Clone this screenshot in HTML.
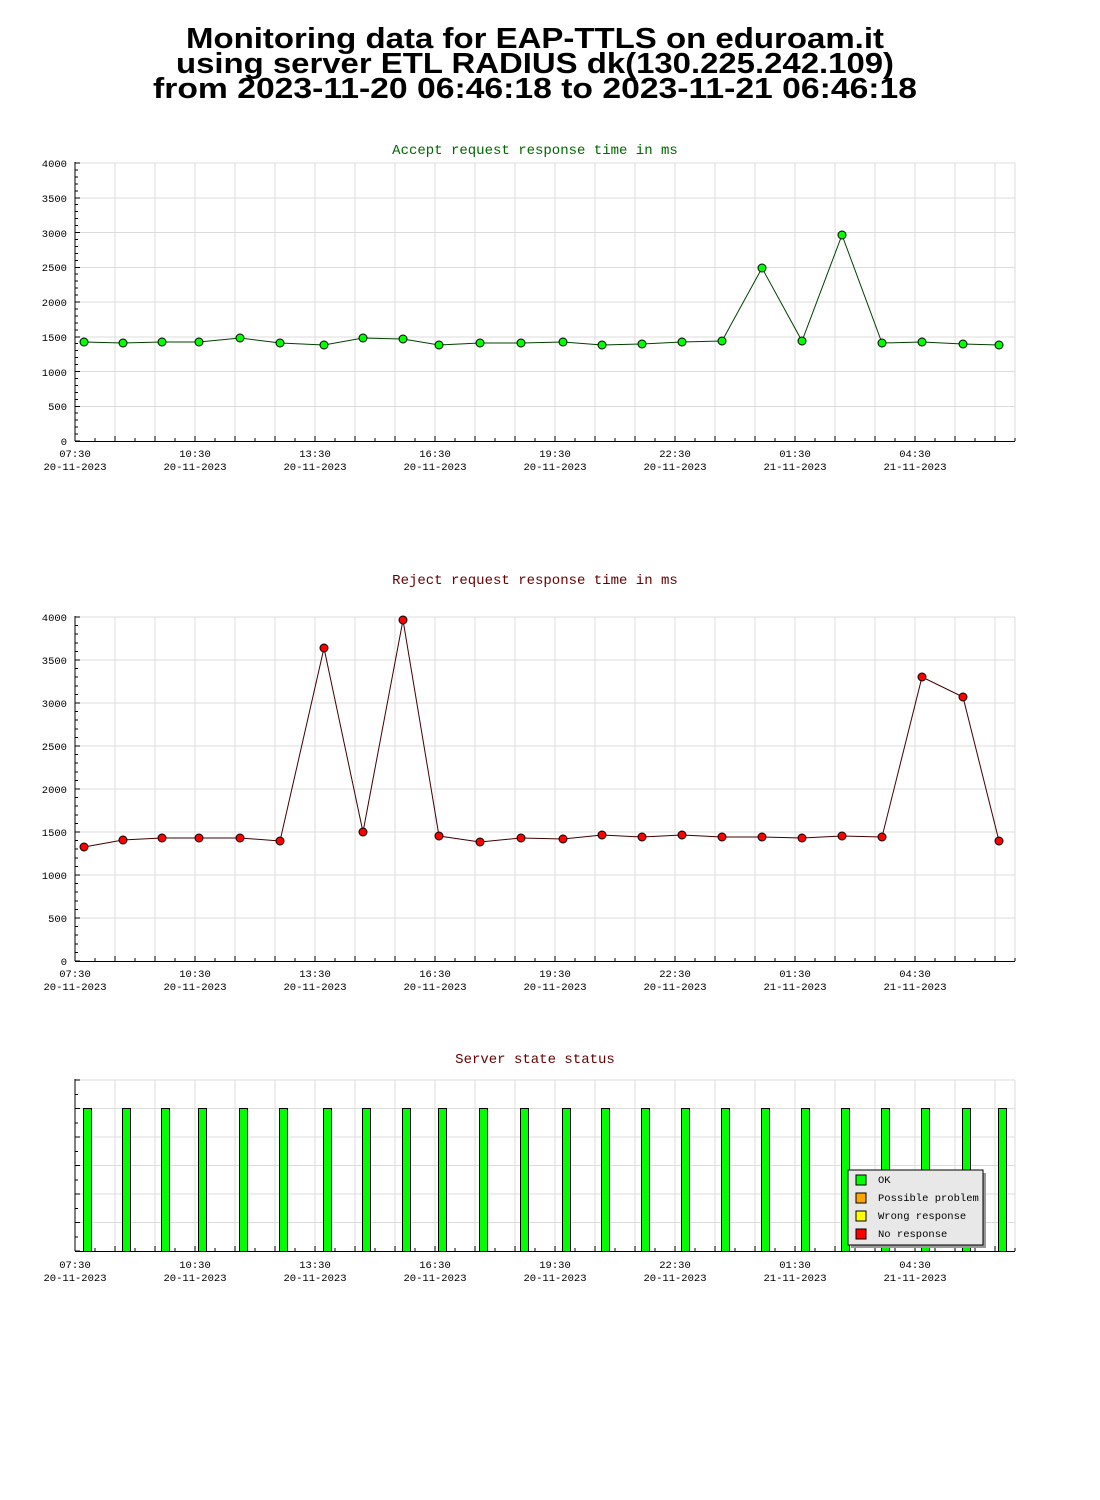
<!DOCTYPE html>
<html><head><meta charset="utf-8"><style>
html,body{margin:0;padding:0;background:#fff;width:1100px;height:1500px;overflow:hidden}
svg{display:block}
.t{font-family:"Liberation Sans",sans-serif;font-weight:bold;font-size:29px;fill:#000}
.m{font-family:"Liberation Mono","DejaVu Sans Mono",monospace;font-size:10.5px;fill:#000}
.h{font-family:"Liberation Mono","DejaVu Sans Mono",monospace;font-size:14px}
</style></head><body>
<svg id="s" width="1100" height="1500" xmlns="http://www.w3.org/2000/svg">
<text class="t" x="535" y="48" text-anchor="middle" textLength="698" lengthAdjust="spacingAndGlyphs">Monitoring data for EAP-TTLS on eduroam.it</text>
<text class="t" x="535" y="73" text-anchor="middle" textLength="718" lengthAdjust="spacingAndGlyphs">using server ETL RADIUS dk(130.225.242.109)</text>
<text class="t" x="535" y="98" text-anchor="middle" textLength="764" lengthAdjust="spacingAndGlyphs">from 2023-11-20 06:46:18 to 2023-11-21 06:46:18</text>
<text class="h" x="535" y="154" text-anchor="middle" fill="#006600">Accept request response time in ms</text>
<text class="h" x="535" y="584" text-anchor="middle" fill="#660000">Reject request response time in ms</text>
<text class="h" x="535" y="1063" text-anchor="middle" fill="#660000">Server state status</text>
<g class="m" text-anchor="end">
<text x="67" y="167">4000</text><text x="67" y="202">3500</text><text x="67" y="237">3000</text><text x="67" y="271">2500</text><text x="67" y="306">2000</text><text x="67" y="341">1500</text><text x="67" y="376">1000</text><text x="67" y="410">500</text><text x="67" y="445">0</text>
<text x="67" y="621">4000</text><text x="67" y="664">3500</text><text x="67" y="707">3000</text><text x="67" y="750">2500</text><text x="67" y="793">2000</text><text x="67" y="836">1500</text><text x="67" y="879">1000</text><text x="67" y="922">500</text><text x="67" y="965">0</text>
</g>
<g class="m" text-anchor="middle" id="xl">
<text x="75" y="457">07:30</text><text x="75" y="470">20-11-2023</text>
<text x="195" y="457">10:30</text><text x="195" y="470">20-11-2023</text>
<text x="315" y="457">13:30</text><text x="315" y="470">20-11-2023</text>
<text x="435" y="457">16:30</text><text x="435" y="470">20-11-2023</text>
<text x="555" y="457">19:30</text><text x="555" y="470">20-11-2023</text>
<text x="675" y="457">22:30</text><text x="675" y="470">20-11-2023</text>
<text x="795" y="457">01:30</text><text x="795" y="470">21-11-2023</text>
<text x="915" y="457">04:30</text><text x="915" y="470">21-11-2023</text>
<text x="75" y="977">07:30</text><text x="75" y="990">20-11-2023</text>
<text x="195" y="977">10:30</text><text x="195" y="990">20-11-2023</text>
<text x="315" y="977">13:30</text><text x="315" y="990">20-11-2023</text>
<text x="435" y="977">16:30</text><text x="435" y="990">20-11-2023</text>
<text x="555" y="977">19:30</text><text x="555" y="990">20-11-2023</text>
<text x="675" y="977">22:30</text><text x="675" y="990">20-11-2023</text>
<text x="795" y="977">01:30</text><text x="795" y="990">21-11-2023</text>
<text x="915" y="977">04:30</text><text x="915" y="990">21-11-2023</text>
<text x="75" y="1268">07:30</text><text x="75" y="1281">20-11-2023</text>
<text x="195" y="1268">10:30</text><text x="195" y="1281">20-11-2023</text>
<text x="315" y="1268">13:30</text><text x="315" y="1281">20-11-2023</text>
<text x="435" y="1268">16:30</text><text x="435" y="1281">20-11-2023</text>
<text x="555" y="1268">19:30</text><text x="555" y="1281">20-11-2023</text>
<text x="675" y="1268">22:30</text><text x="675" y="1281">20-11-2023</text>
<text x="795" y="1268">01:30</text><text x="795" y="1281">21-11-2023</text>
<text x="915" y="1268">04:30</text><text x="915" y="1281">21-11-2023</text>
</g>
<g id="g"></g>
<g id="leg">
<rect x="851" y="1173" width="135" height="75" fill="#999"/>
<rect x="848" y="1170" width="135" height="75" fill="#e8e8e8" stroke="#000"/>
<rect x="856" y="1175" width="10" height="10" fill="#00ff00" stroke="#000"/>
<rect x="856" y="1193" width="10" height="10" fill="#ffa500" stroke="#000"/>
<rect x="856" y="1211" width="10" height="10" fill="#ffff00" stroke="#000"/>
<rect x="856" y="1229" width="10" height="10" fill="#ff0000" stroke="#000"/>
<text class="m" x="878" y="1183">OK</text>
<text class="m" x="878" y="1201">Possible problem</text>
<text class="m" x="878" y="1219">Wrong response</text>
<text class="m" x="878" y="1237">No response</text>
</g>
</svg>
<script>
var g=document.getElementById('g'),h='';
function L(x1,y1,x2,y2,c){h+='<line x1="'+x1+'" y1="'+y1+'" x2="'+x2+'" y2="'+y2+'" stroke="'+c+'" stroke-width="1" shape-rendering="crispEdges"/>';}
function chart(top,bot,n,minor){
  var gc='#dcdcdc';
  for(var k=1;k<=23;k++)L(75+40*k,top,75+40*k,bot,gc);
  L(1015,top,1015,bot,gc);
  for(var i=0;i<n;i++){var y=top+(bot-top)*i/n;L(75,y,1015,y,gc);}
  L(75,top-1,75,bot,'#000');L(75,bot+.5,1015,bot+.5,'#000');
  for(var k=0;k<=47;k++){var x=75+20*k;L(x,bot,x,bot-(k%2?3:5),'#000');}
  for(var i=0;i<=minor;i++){var y=top+(bot-top)*i/minor;L(75,y,(i%(minor/n)==0)?80:78,y,'#000');}
}
chart(163,441,8,40);chart(617,961,8,40);chart(1080,1251,6,12);
var xs=[84,123,162,199,240,280,324,363,403,439,480,521,563,602,642,682,722,762,802,842,882,922,963,999];
var y1=[342,343,342,342,338,343,345,338,339,345,343,343,342,345,344,342,341,268,341,235,343,342,344,345];
var y2=[847,840,838,838,838,841,648,832,620,836,842,838,839,835,837,835,837,837,838,836,837,677,697,841];
function ser(ys,lc,fc){var p=xs.map(function(x,i){return x+','+ys[i]}).join(' ');
h+='<polyline points="'+p+'" fill="none" stroke="'+lc+'" stroke-width="1"/>';
xs.forEach(function(x,i){h+='<circle cx="'+x+'" cy="'+ys[i]+'" r="4" fill="'+fc+'" stroke="#000" stroke-width="1"/>';});}
ser(y1,'#004000','#00ff00');ser(y2,'#400000','#ff0000');
xs.forEach(function(x){h+='<rect x="'+(x-0.5)+'" y="1108.5" width="8" height="143" fill="#00ff00" stroke="#000" stroke-width="1"/>';});
g.innerHTML=h;
</script>
</body></html>
